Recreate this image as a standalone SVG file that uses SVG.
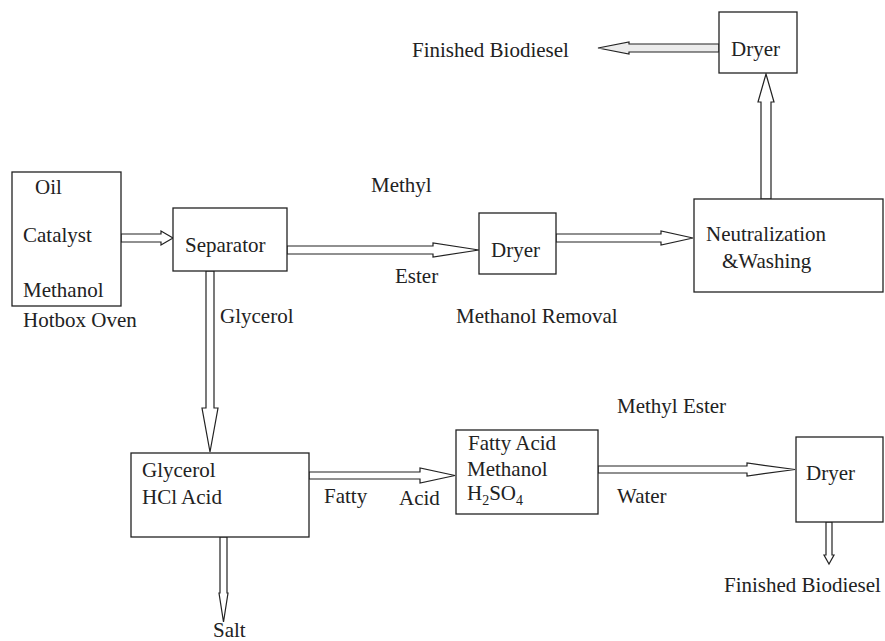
<svg xmlns="http://www.w3.org/2000/svg" width="885" height="641" viewBox="0 0 885 641">
<style>
.box{fill:#fff;stroke:#222;stroke-width:1.3}
.arr{fill:#fff;stroke:#222;stroke-width:1.2;stroke-linejoin:miter}
.arrg{fill:#ececec;stroke:#222;stroke-width:1.2}
text{font-family:'Liberation Serif','Times New Roman',Tinos,'DejaVu Serif','Noto Serif',serif;font-size:21px;fill:#222}
.sub{font-size:14px}
</style>
<rect width="885" height="641" fill="#fff"/>
<g id="connectors">
<polygon class="arr" points="121,234 161,234 161,231 173,238 161,245 161,242 121,242"/>
<polygon class="arr" points="287,246 433,246 433,243 479,250 433,257 433,254 287,254"/>
<polygon class="arr" points="556,234 661,234 661,231 693,238 661,245 661,242 556,242"/>
<polygon class="arr" points="761,199 761,102 758,102 766,74 774,102 771,102 771,199"/>
<polygon class="arrg" points="719,44 629,44 629,42 598,48 629,54 629,52 719,52"/>
<polygon class="arr" points="206,271 206,408 202,408 210,452 218,408 214,408 214,271"/>
<polygon class="arr" points="309,472 420,472 420,468 455,475.5 420,483 420,479 309,479"/>
<polygon class="arr" points="220,537 220,593 219,593 223.5,622 228,593 227,593 227,537"/>
<polygon class="arr" points="598,466 747,466 747,463 795,469.5 747,476 747,473 598,473"/>
<polygon class="arr" points="826,522 826,555 824,555 829,564 834,555 832,555 832,522"/>
</g>
<g id="hotbox">
<rect class="box" x="12" y="172" width="109" height="134"/>
<text x="35" y="194">Oil</text>
<text x="23" y="242">Catalyst</text>
<text x="23" y="297">Methanol</text>
<text x="23" y="327">Hotbox Oven</text>
</g>
<g id="separator">
<rect class="box" x="173" y="208" width="114" height="63"/>
<text x="185" y="252">Separator</text>
</g>
<g id="dryer1">
<rect class="box" x="479" y="213" width="77" height="61"/>
<text x="491" y="257">Dryer</text>
</g>
<g id="neutralization">
<rect class="box" x="694" y="199" width="189" height="93"/>
<text x="706" y="241">Neutralization</text>
<text x="722" y="268">&amp;Washing</text>
</g>
<g id="dryer-top">
<rect class="box" x="719" y="12" width="78" height="61"/>
<text x="731" y="56">Dryer</text>
</g>
<g id="glycerol-hcl">
<rect class="box" x="131" y="453" width="178" height="84"/>
<text x="142" y="477">Glycerol</text>
<text x="142" y="504">HCl Acid</text>
</g>
<g id="fatty-acid">
<rect class="box" x="456" y="430" width="142" height="84"/>
<text x="468" y="450">Fatty Acid</text>
<text x="467" y="476">Methanol</text>
<text x="467" y="500">H<tspan class="sub" dy="5">2</tspan><tspan dy="-5">SO</tspan><tspan class="sub" dy="5">4</tspan></text>
</g>
<g id="dryer-bottom">
<rect class="box" x="796" y="437" width="87" height="85"/>
<text x="806" y="480">Dryer</text>
</g>
<g id="labels">
<text x="412" y="57">Finished Biodiesel</text>
<text x="371" y="192">Methyl</text>
<text x="395" y="283">Ester</text>
<text x="456" y="323">Methanol Removal</text>
<text x="220" y="323">Glycerol</text>
<text x="324" y="503">Fatty</text>
<text x="399" y="505">Acid</text>
<text x="213" y="637">Salt</text>
<text x="617" y="413">Methyl Ester</text>
<text x="617" y="503">Water</text>
<text x="724" y="592">Finished Biodiesel</text>
</g>
</svg>
